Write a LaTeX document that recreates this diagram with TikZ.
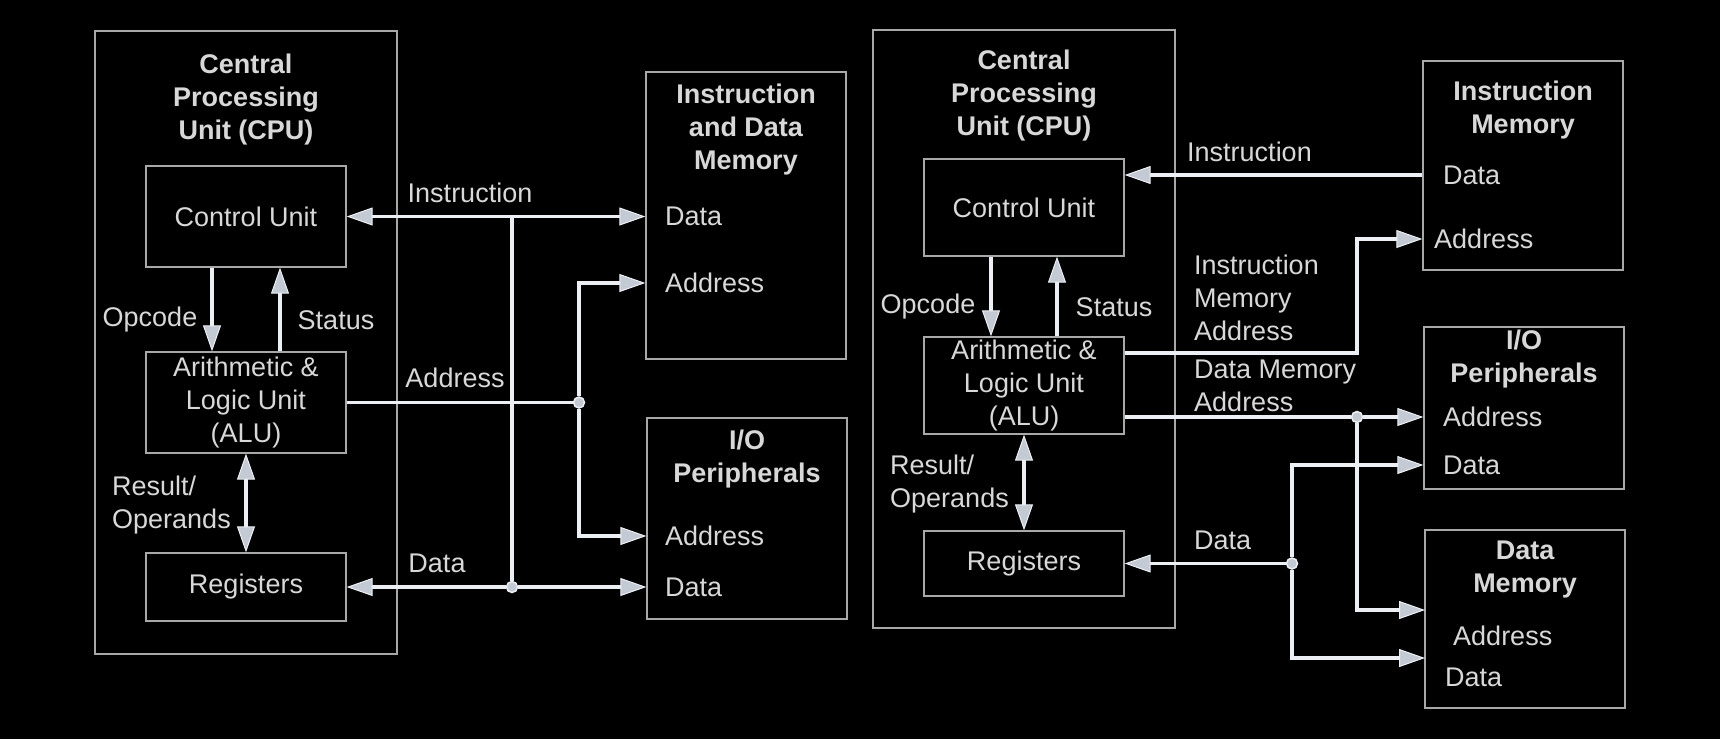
\documentclass[tikz,border=0pt]{standalone}
\usepackage{fontspec}
\setmainfont{Liberation Sans}
\usetikzlibrary{arrows.meta}
\definecolor{boxgray}{HTML}{A8A8A8}
\definecolor{txtgray}{HTML}{D8D8D8}
\definecolor{buswhite}{HTML}{ECEFF4}
\definecolor{tipfill}{HTML}{C4CAD4}
\tikzset{
  unit/.style={draw=boxgray, line width=1.3pt, minimum width=200pt, inner sep=0pt, text=txtgray, align=center},
  bus/.style={draw=buswhite, line width=3.5pt},
  bustip/.tip={Triangle[length=26pt,width=18pt,line width=1pt,fill=tipfill]},
  lbl/.style={text=txtgray, inner sep=0pt, align=left},
  ttl/.style={text=txtgray, inner sep=0pt, align=center, font=\fontsize{27}{33}\selectfont\bfseries},
  port/.style={lbl, anchor=west},
  dot/.style={circle, draw=buswhite, fill=tipfill, line width=1.5pt, minimum size=11pt, inner sep=0pt}
}
\begin{document}
\begin{tikzpicture}[x=1pt,y=-1pt,font=\fontsize{27}{33}\selectfont]
\fill[black] (0,0) rectangle (1720,739);
\useasboundingbox (0,0) rectangle (1720,739);

\node[unit,minimum width=302pt,minimum height=623pt] (cpuL) at (246,342.5) {};
\node[ttl] (cpuLttl) at (246,100) {Central\\Processing\\Unit (CPU)};
\node[unit,minimum height=101pt] (cuL) at (246,216.5) {Control Unit};
\node[unit,minimum height=101pt] (aluL) at (246,402.5) {Arithmetic \&\\Logic Unit\\(ALU)};
\node[unit,minimum height=68pt] (regL) at (246,587) {Registers};

\node[unit,minimum height=287pt] (memL) at (746,215.5) {};
\node[ttl] (memLttl) at (746,130) {Instruction\\and Data\\Memory};
\node[port] (memLdata) at (665,216.5) {Data};
\node[port] (memLaddr) at (665,283) {Address};
\node[unit,minimum height=201pt] (ioL) at (747,518.5) {};
\node[ttl] (ioLttl) at (747,459) {I/O\\Peripherals};
\node[port] (ioLaddr) at (665,536) {Address};
\node[port] (ioLdata) at (665,587) {Data};

\node[dot] (jaddrL) at (579,402.5) {};
\node[dot] (jdataL) at (512,587) {};
\coordinate (tinsL) at (512,216.5);

\draw[bus,bustip-bustip] (cuL.east) -- (memL.west |- memLdata);
\draw[bus] (tinsL) -- (jdataL);
\draw[bus,bustip-] (regL.east) -- (jdataL);
\draw[bus,-bustip] (jdataL) -- (ioL.west |- ioLdata);
\draw[bus] (aluL.east) -- (jaddrL);
\draw[bus,-bustip] (jaddrL) |- (memL.west |- memLaddr);
\draw[bus,-bustip] (jaddrL) |- (ioL.west |- ioLaddr);
\draw[bus,-bustip] ([xshift=-34pt]cuL.south) -- ([xshift=-34pt]aluL.north);
\draw[bus,-bustip] ([xshift=34pt]aluL.north) -- ([xshift=34pt]cuL.south);
\draw[bus,bustip-bustip] (aluL.south) -- (regL.north);

\node[lbl] (opL) at (150,320) {Opcode};
\node[lbl] (stL) at (336,320) {Status};
\node[lbl,anchor=west] (resL) at (112,505) {Result/\\Operands};
\node[lbl] (insL) at (470,193) {Instruction};
\node[lbl] (adL) at (455,378) {Address};
\node[lbl] (daL) at (437,563) {Data};

\node[unit,minimum width=302pt,minimum height=598pt] (cpuR) at (1024,329) {};
\node[ttl] (cpuRttl) at (1024,96) {Central\\Processing\\Unit (CPU)};
\node[unit,minimum height=97pt] (cuR) at (1024,207.5) {Control Unit};
\node[unit,minimum height=97pt] (aluR) at (1024,385.5) {Arithmetic \&\\Logic Unit\\(ALU)};
\node[unit,minimum height=65pt] (regR) at (1024,563.5) {Registers};

\node[unit,minimum height=209pt] (imR) at (1523,165.5) {};
\node[ttl] (imRttl) at (1523,110) {Instruction\\Memory};
\node[port] (imRdata) at (1443,175) {Data};
\node[port] (imRaddr) at (1434,239) {Address};
\node[unit,minimum height=162pt] (ioR) at (1524,408) {};
\node[ttl] (ioRttl) at (1524,359) {I/O\\Peripherals};
\node[port] (ioRaddr) at (1443,417) {Address};
\node[port] (ioRdata) at (1443,465) {Data};
\node[unit,minimum height=178pt] (dmR) at (1525,619) {};
\node[ttl] (dmRttl) at (1525,570) {Data\\Memory};
\node[port] (dmRaddr) at (1453,636) {Address};
\node[port] (dmRdata) at (1445,677) {Data};

\node[dot] (jdmaR) at (1357,417) {};
\node[dot] (jdataR) at (1292,563.5) {};
\coordinate (imaR) at (1357,353);
\coordinate (dmRa) at (1425,610);
\coordinate (dmRd) at (1425,658);

\draw[bus,-bustip] (imR.west |- imRdata) -- (cuR.east |- imRdata);
\draw[bus,-bustip] (aluR.east |- imaR) -- (imaR) |- (imR.west |- imRaddr);
\draw[bus] (aluR.east |- jdmaR) -- (jdmaR);
\draw[bus,-bustip] (jdmaR) -- (ioR.west |- ioRaddr);
\draw[bus,-bustip] (jdmaR) |- (dmRa);
\draw[bus,-bustip] (jdataR) -- (regR.east);
\draw[bus,-bustip] (jdataR) |- (ioR.west |- ioRdata);
\draw[bus,-bustip] (jdataR) |- (dmRd);
\draw[bus,-bustip] ([xshift=-33pt]cuR.south) -- ([xshift=-33pt]aluR.north);
\draw[bus,-bustip] ([xshift=33pt]aluR.north) -- ([xshift=33pt]cuR.south);
\draw[bus,bustip-bustip] (aluR.south) -- (regR.north);

\node[lbl] (opR) at (928,307) {Opcode};
\node[lbl] (stR) at (1114,307) {Status};
\node[lbl,anchor=west] (resR) at (890,484) {Result/\\Operands};
\node[lbl,anchor=west] (insR) at (1187,152) {Instruction};
\node[lbl,anchor=west] (imaRl) at (1194,298) {Instruction\\Memory\\Address};
\node[lbl,anchor=west] (dmaRl) at (1194,386) {Data Memory\\Address};
\node[lbl,anchor=west] (daR) at (1194,540) {Data};
\end{tikzpicture}
\end{document}
